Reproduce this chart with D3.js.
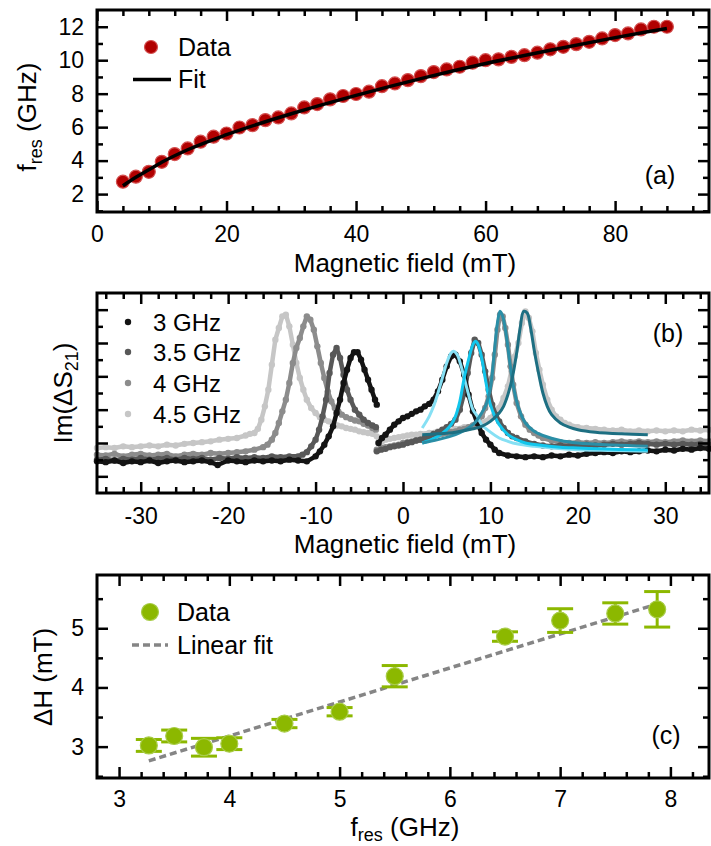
<!DOCTYPE html>
<html lang="en">
<head>
<meta charset="utf-8">
<script src="https://cdn.jsdelivr.net/npm/d3@7"></script>
<style>
  body { margin: 0; background: #fff; }
  svg { font-family: "Liberation Sans", Arial, Helvetica, sans-serif; }
</style>
</head>
<body>
<script>
// ---------- panel (a): resonance frequency vs field ----------
let fieldA = [4,6,8,10,12,14,16,18,20,22,24,26,28,30,32,34,36,38,40,42,44,46,48,50,52,54,56,58,60,62,64,66,68,70,72,74,76,78,80,82,84,86,88];
let fresA  = [2.74,3.04,3.33,3.93,4.39,4.73,5.13,5.43,5.62,5.98,6.12,6.42,6.58,6.82,7.18,7.38,7.66,7.86,7.98,8.12,8.45,8.61,8.81,9.05,9.29,9.45,9.61,9.85,10.0,10.05,10.2,10.3,10.45,10.65,10.8,10.96,11.1,11.3,11.5,11.6,11.84,12.0,12.0];
let fitFieldA = [4,6,8,10,14,20,30,40,50,60,70,80,85,88];
let fitA      = [2.5,3.0,3.45,3.9,4.65,5.55,6.8,7.9,8.9,9.8,10.6,11.35,11.7,11.9];
let xMajA = [0,20,40,60,80];
let xMinA = [4,8,12,16,24,28,32,36,44,48,52,56,64,68,72,76,84,88,92];
let yMajA = [2,4,6,8,10,12];
let yMinA = [1,3,5,7,9,11];

// ---------- panel (b): Im(dS21) spectra, [field, value] ----------
let labelsB = ["3 GHz", "3.5 GHz", "4 GHz", "4.5 GHz"];
let colorsB = ["#141414", "#585858", "#8c8c8c", "#c6c6c6"];
let fitColorsB = ["#86e0f4", "#12c6ec", "#2a8ea6", "#1d6f82"];
let s3Neg = [[-35,1.9],[-34,1.85],[-33,1.95],[-32,1.8],[-31,1.9],[-30,1.85],[-29,1.95],[-28,1.8],[-27,1.9],[-26,1.95],[-25,1.85],[-24,1.9],[-23,1.95],[-22,1.85],[-21.2,1.68],[-20,1.95],[-19,1.9],[-18,1.85],[-17,1.95],[-16,1.9],[-15,1.95],[-14,1.9],[-13,2.0],[-12,1.95],[-11,1.9],[-10,2.2],[-9.5,2.5],[-9,2.9],[-8.5,3.4],[-8,4.0],[-7.6,4.8],[-7.2,5.6],[-6.8,6.6],[-6.4,7.4],[-6,8.1],[-5.6,8.45],[-5.2,8.45],[-4.8,8.0],[-4.4,7.4],[-4,6.8],[-3.6,6.2],[-3.2,5.6],[-3,5.3]];
let s3Pos = [[-2.8,3.0],[-2.4,3.3],[-2,3.5],[-1.5,3.8],[-1,4.1],[-0.5,4.3],[0,4.5],[0.5,4.6],[1,4.75],[1.5,4.9],[2,5.0],[2.5,5.2],[3,5.35],[3.5,5.6],[4,6.1],[4.5,6.8],[5,7.6],[5.5,8.2],[6,8.3],[6.5,7.9],[7,7.1],[7.5,5.9],[8,4.9],[8.5,4.2],[9,3.6],[9.5,3.2],[10,2.9],[10.5,2.6],[11,2.4],[12,2.25],[13,2.2],[14,2.15],[15,2.2],[16,2.15],[17,2.25],[18,2.2],[19,2.3],[20,2.25],[21,2.35],[22,2.4],[23,2.45],[24,2.4],[25,2.5],[26,2.45],[27,2.5],[28,2.55],[29,2.5],[30,2.6],[31,2.55],[32,2.65],[33,2.6],[34,2.7],[35,2.65]];
let s35Neg = [[-35,2.0],[-34,2.05],[-33,1.95],[-32,2.05],[-31,2.0],[-30,2.1],[-29,2.0],[-28,2.05],[-27,2.1],[-26,2.0],[-25,2.1],[-24,2.05],[-23,2.1],[-22,2.0],[-21,2.1],[-20,2.05],[-19,2.15],[-18,2.1],[-17,2.15],[-16,2.1],[-15,2.2],[-14,2.15],[-13,2.2],[-12,2.2],[-11.5,2.3],[-11,2.45],[-10.5,2.8],[-10,3.2],[-9.6,3.8],[-9.2,4.6],[-8.8,5.6],[-8.4,7.2],[-8.0,8.3],[-7.6,8.7],[-7.2,8.1],[-6.8,7.1],[-6.4,6.2],[-6,5.6],[-5.5,5.0],[-5,4.7],[-4.5,4.4],[-4,4.2],[-3.5,4.05],[-3.1,3.95]];
let s35Pos = [[-3,2.5],[-2.5,2.6],[-2,2.65],[-1.5,2.75],[-1,2.8],[-0.5,2.85],[0,2.9],[0.5,3.0],[1,3.05],[1.5,3.15],[2,3.2],[2.5,3.3],[3,3.4],[3.5,3.55],[4,3.65],[4.5,3.8],[5,3.95],[5.5,4.15],[6,4.4],[6.5,5.0],[7,6.0],[7.4,7.2],[7.8,8.4],[8.2,9.2],[8.6,9.0],[9,8.3],[9.4,7.3],[9.8,6.2],[10.2,5.3],[10.6,4.7],[11,4.3],[11.5,3.9],[12,3.6],[12.5,3.4],[13,3.3],[14,3.1],[15,2.95],[16,2.85],[17,2.8],[18,2.85],[19,2.8],[20,2.85],[21,2.9],[22,2.85],[23,2.9],[24,2.95],[25,2.9],[26,2.95],[27,3.0],[28,2.95],[29,2.9],[30,2.95],[31,2.9],[32,2.95],[33,2.9],[34,2.95],[35,2.9]];
let s4Neg = [[-35,2.3],[-34,2.25],[-33,2.35],[-32,2.2],[-31,2.3],[-30,2.35],[-29,2.25],[-28,2.3],[-27,2.35],[-26,2.2],[-25,2.3],[-24,2.35],[-23,2.3],[-22,2.4],[-21,2.35],[-20,2.4],[-19,2.45],[-18,2.5],[-17,2.6],[-16,2.75],[-15.5,2.9],[-15,3.2],[-14.6,3.6],[-14.2,4.2],[-13.8,4.9],[-13.4,5.6],[-13,6.6],[-12.6,7.8],[-12.2,8.7],[-11.8,9.3],[-11.4,10.0],[-11,10.6],[-10.6,10.4],[-10.2,9.8],[-9.8,8.8],[-9.4,7.8],[-9,6.9],[-8.6,6.1],[-8.2,5.5],[-7.8,5.1],[-7.4,4.9],[-7,4.7],[-6.5,4.55],[-6,4.45],[-5.5,4.35],[-5,4.3],[-4.5,4.15],[-4,4.05],[-3.5,3.9],[-3.1,3.8]];
let s4Pos = [[-3,2.6],[-2.5,2.7],[-2,2.75],[-1.5,2.8],[-1,2.85],[-0.5,2.9],[0,3.0],[0.5,3.05],[1,3.1],[1.5,3.15],[2,3.2],[2.5,3.3],[3,3.35],[3.5,3.45],[4,3.5],[4.5,3.55],[5,3.6],[5.5,3.65],[6,3.7],[6.5,3.8],[7,3.85],[7.5,3.95],[8,4.05],[8.5,4.3],[9,4.6],[9.4,5.1],[9.8,5.8],[10.2,6.9],[10.5,8.3],[10.8,9.8],[11.1,10.7],[11.4,10.6],[11.7,9.9],[12,8.9],[12.3,7.6],[12.6,6.5],[13,5.4],[13.5,4.6],[14,4.1],[14.5,3.8],[15,3.6],[15.5,3.45],[16,3.3],[17,3.15],[18,3.05],[19,3.0],[20,3.05],[21,3.0],[22,3.05],[23,3.0],[24,3.05],[25,3.1],[26,3.05],[27,3.1],[28,3.05],[29,3.1],[30,3.05],[31,3.1],[32,3.15],[33,3.1],[34,3.15],[35,3.1]];
let s45Neg = [[-35,2.7],[-34,2.75],[-33,2.7],[-32,2.8],[-31,2.75],[-30,2.8],[-29,2.85],[-28,2.8],[-27,2.9],[-26,2.85],[-25,2.95],[-24,3.0],[-23,3.05],[-22,3.1],[-21,3.2],[-20,3.25],[-19,3.3],[-18,3.45],[-17.5,3.55],[-17,3.6],[-16.6,3.85],[-16.2,4.4],[-15.8,5.2],[-15.4,6.2],[-15,7.7],[-14.6,9.2],[-14.2,9.9],[-13.8,10.6],[-13.4,10.7],[-13,10.0],[-12.6,8.9],[-12.2,7.8],[-11.8,6.9],[-11.4,6.2],[-11,5.6],[-10.5,5.1],[-10,4.8],[-9.5,4.55],[-9,4.4],[-8.5,4.3],[-8,4.15],[-7.5,4.05],[-7,4.0],[-6.5,3.9],[-6,3.85],[-5.5,3.8],[-5,3.7],[-4.5,3.65],[-4,3.6],[-3.5,3.55],[-3,3.4],[-2.6,3.05]];
let s45Pos = [[-2.8,3.05],[-2.4,3.1],[-2,3.2],[-1.5,3.25],[-1,3.3],[-0.5,3.35],[0,3.4],[0.5,3.45],[1,3.5],[1.5,3.5],[2,3.55],[3,3.6],[4,3.7],[5,3.75],[6,3.85],[7,3.95],[8,4.05],[9,4.2],[10,4.5],[10.5,4.8],[11,5.1],[11.5,5.7],[12,6.4],[12.4,7.3],[12.8,8.2],[13.2,9.0],[13.6,10.2],[14,10.9],[14.4,10.5],[14.8,9.7],[15.2,8.4],[15.6,7.4],[16,6.5],[16.5,5.6],[17,5.0],[17.5,4.6],[18,4.4],[18.5,4.2],[19,4.1],[20,3.95],[21,3.9],[22,3.85],[23,3.8],[24,3.75],[25,3.8],[26,3.7],[27,3.75],[28,3.7],[29,3.75],[30,3.7],[31,3.75],[32,3.7],[33,3.8],[34,3.75],[35,3.8]];
let fit3 = [[2.2,3.9],[3,4.6],[3.5,5.2],[4,6.0],[4.5,6.9],[5,7.8],[5.5,8.4],[5.8,8.5],[6.2,8.3],[6.6,7.7],[7,6.9],[7.5,5.9],[8,5.0],[8.5,4.6],[9,4.1],[10,3.65],[11,3.3],[12,3.1],[13,2.95],[15,2.8],[17,2.7],[20,2.6],[24,2.55],[28,2.5]];
let fit35 = [[2.2,3.0],[3,3.15],[4,3.4],[5,3.8],[5.5,4.1],[6,4.6],[6.5,5.5],[7,6.9],[7.5,8.0],[8,8.9],[8.3,9.1],[8.6,8.9],[9,8.1],[9.5,6.6],[10,5.3],[10.5,4.6],[11,4.1],[12,3.5],[13,3.2],[14,3.0],[16,2.85],[18,2.75],[20,2.7],[24,2.62],[28,2.58]];
let fit4 = [[2.2,3.0],[4,3.2],[6,3.5],[7,3.75],[8,4.1],[8.5,4.4],[9,4.8],[9.5,5.3],[10,6.3],[10.4,8.2],[10.8,10.2],[11.1,10.9],[11.4,10.6],[11.8,9.5],[12.2,7.9],[12.6,6.5],[13,5.5],[13.5,4.7],[14,4.2],[15,3.7],[16,3.45],[18,3.15],[20,3.0],[24,2.88],[28,2.8]];
let fit45 = [[2.2,3.5],[4,3.55],[6,3.65],[8,3.85],[9,4.0],[10,4.3],[11,4.8],[11.5,5.2],[12,5.9],[12.5,6.9],[13,8.4],[13.4,9.9],[13.8,10.9],[14.2,10.8],[14.6,9.9],[15,8.6],[15.5,7.2],[16,6.0],[16.5,5.2],[17,4.7],[18,4.2],[19,3.95],[20,3.8],[22,3.65],[25,3.55],[28,3.5]];
let xMajB = [-30,-20,-10,0,10,20,30];
let xMinB = [-34,-32,-28,-26,-24,-22,-18,-16,-14,-12,-8,-6,-4,-2,2,4,6,8,12,14,16,18,22,24,26,28,32,34];
let yMajB = [1,3,5,7,9,11];
let yMinB = [2,4,6,8,10];

// ---------- panel (c): linewidth vs frequency ----------
let freqC = [3.27,3.5,3.77,4.0,4.5,5.0,5.5,6.5,7.0,7.5,7.88];
let dHC   = [3.02,3.18,2.99,3.05,3.39,3.59,4.19,4.86,5.13,5.25,5.32];
let errC  = [0.1,0.1,0.15,0.1,0.07,0.07,0.18,0.08,0.2,0.18,0.3];
let fitFreqC = [3.27,7.88];
let fitC     = [2.76,5.41];
let xMajC = [3,4,5,6,7,8];
let xMinC = [3.2,3.4,3.6,3.8,4.2,4.4,4.6,4.8,5.2,5.4,5.6,5.8,6.2,6.4,6.6,6.8,7.2,7.4,7.6,7.8,8.2];
let yMajC = [3,4,5];
let yMinC = [2.5,3.5,4.5,5.5];

let w = 711, h = 846;
let left = 97, right = 709;
let tickFont = 23, labelFont = 26, legendFont = 25;

let svg = d3.select("body").append("svg")
    .attr("width", w)
    .attr("height", h);

function addAxes(x, y, xMaj, xMin, yMaj, yMin, showY, pad) {
    let [yb, yt] = y.range();
    let [xl, xr] = x.range();
    let big = 11, small = 6;
    let g = svg.append("g");
    let style = (sel) => {
        sel.select(".domain").remove();
        sel.attr("font-size", tickFont).attr("font-family", null);
        sel.selectAll("line").attr("stroke-width", 2.5);
        sel.selectAll("text").attr("fill", "#000");
    };
    g.append("g").attr("transform", "translate(0," + yb + ")")
        .call(d3.axisBottom(x).tickValues(xMaj).tickSize(-big).tickPadding(pad).tickFormat((d) => String(d))).call(style);
    g.append("g").attr("transform", "translate(0," + yb + ")")
        .call(d3.axisBottom(x).tickValues(xMin).tickSize(-small).tickFormat("")).call(style);
    g.append("g").attr("transform", "translate(0," + yt + ")")
        .call(d3.axisTop(x).tickValues(xMaj).tickSize(-big).tickFormat("")).call(style);
    g.append("g").attr("transform", "translate(0," + yt + ")")
        .call(d3.axisTop(x).tickValues(xMin).tickSize(-small).tickFormat("")).call(style);
    g.append("g").attr("transform", "translate(" + xl + ",0)")
        .call(d3.axisLeft(y).tickValues(yMaj).tickSize(-big).tickPadding(13).tickFormat(showY ? (d) => String(d) : "")).call(style);
    g.append("g").attr("transform", "translate(" + xl + ",0)")
        .call(d3.axisLeft(y).tickValues(yMin).tickSize(-small).tickFormat("")).call(style);
    g.append("g").attr("transform", "translate(" + xr + ",0)")
        .call(d3.axisRight(y).tickValues(yMaj).tickSize(-big).tickFormat("")).call(style);
    g.append("g").attr("transform", "translate(" + xr + ",0)")
        .call(d3.axisRight(y).tickValues(yMin).tickSize(-small).tickFormat("")).call(style);
    svg.append("rect")
        .attr("x", xl).attr("y", yt)
        .attr("width", xr - xl).attr("height", yb - yt)
        .attr("fill", "none").attr("stroke", "#000").attr("stroke-width", 3);
}

function text(x, y, str, size, anchor) {
    return svg.append("text").attr("x", x).attr("y", y)
        .attr("font-size", size).attr("text-anchor", anchor || "start")
        .attr("fill", "#000").text(str);
}

// ===== panel (a) =====
let xA = d3.scaleLinear().domain([0, 94.5]).range([left, right]);
let yA = d3.scaleLinear().domain([0.93, 13]).range([212, 10]);

svg.append("g").selectAll("circle")
    .data(fieldA)
    .enter()
    .append("circle")
    .attr("cx", (d) => xA(d))
    .attr("cy", (d, i) => yA(fresA[i]))
    .attr("r", 6.5)
    .attr("fill", "#b10000")
    .attr("stroke", "#d45050")
    .attr("stroke-width", 1.2);

svg.append("path")
    .datum(fitFieldA)
    .attr("d", d3.line().x((d) => xA(d)).y((d, i) => yA(fitA[i])).curve(d3.curveMonotoneX))
    .attr("fill", "none").attr("stroke", "#000").attr("stroke-width", 3.5);

addAxes(xA, yA, xMajA, xMinA, yMajA, yMinA, true, 14);

// legend (a)
svg.append("circle").attr("cx", 151).attr("cy", 47).attr("r", 6.5)
    .attr("fill", "#b10000").attr("stroke", "#d45050").attr("stroke-width", 1.2);
text(178, 56, "Data", legendFont);
svg.append("line").attr("x1", 133).attr("x2", 171).attr("y1", 79.5).attr("y2", 79.5)
    .attr("stroke", "#000").attr("stroke-width", 3.5);
text(178, 88, "Fit", legendFont);
text(660, 184, "(a)", legendFont, "middle");

text(405, 272, "Magnetic field (mT)", labelFont, "middle");
let labA = svg.append("text").attr("transform", "translate(36,117) rotate(-90)")
    .attr("text-anchor", "middle").attr("font-size", labelFont).attr("fill", "#000");
labA.append("tspan").text("f");
labA.append("tspan").attr("font-size", 18).attr("dy", 6).text("res");
labA.append("tspan").attr("dy", -6).text(" (GHz)");

// ===== panel (b) =====
let xB = d3.scaleLinear().domain([-35, 35]).range([left, right]);
let yB = d3.scaleLinear().domain([0, 12]).range([493, 293]);
let seriesB = [[s45Neg, s45Pos, 3], [s4Neg, s4Pos, 2], [s35Neg, s35Pos, 1], [s3Neg, s3Pos, 0]];
let lineB = d3.line().x((d) => xB(d[0])).y((d) => yB(d[1]));

seriesB.forEach((s) => {
    let col = colorsB[s[2]];
    [s[0], s[1]].forEach((seg) => {
        svg.append("path").datum(seg).attr("d", lineB)
            .attr("fill", "none").attr("stroke", col)
            .attr("stroke-width", 4.5).attr("stroke-linejoin", "round");
        svg.append("g").selectAll("circle")
            .data(seg).enter().append("circle")
            .attr("cx", (d) => xB(d[0]))
            .attr("cy", (d) => yB(d[1]))
            .attr("r", 3.2)
            .attr("fill", col);
    });
});

let fitLineB = d3.line().x((d) => xB(d[0])).y((d) => yB(d[1])).curve(d3.curveCatmullRom);
[fit3, fit35, fit4, fit45].forEach((f, i) => {
    svg.append("path").datum(f).attr("d", fitLineB)
        .attr("fill", "none").attr("stroke", fitColorsB[i]).attr("stroke-width", 3);
});

addAxes(xB, yB, xMajB, xMinB, yMajB, yMinB, false, 15);

// legend (b)
let legYB = [322, 352, 383, 414];
labelsB.forEach((lab, i) => {
    svg.append("circle").attr("cx", 128).attr("cy", legYB[i]).attr("r", 3.2).attr("fill", colorsB[i]);
    text(153, legYB[i] + 8.5, lab, 24);
});
text(668, 342, "(b)", legendFont, "middle");

text(405, 553, "Magnetic field (mT)", labelFont, "middle");
let labB = svg.append("text").attr("transform", "translate(72,393) rotate(-90)")
    .attr("text-anchor", "middle").attr("font-size", labelFont).attr("fill", "#000");
labB.append("tspan").text("Im(\u0394S");
labB.append("tspan").attr("font-size", 18).attr("dy", 6).text("21");
labB.append("tspan").attr("dy", -6).text(")");

// ===== panel (c) =====
let xC = d3.scaleLinear().domain([2.8, 8.35]).range([left, right]);
let yC = d3.scaleLinear().domain([2.47, 5.9]).range([778, 575]);
let green = "#8cb800";

svg.append("path")
    .datum(fitFreqC)
    .attr("d", d3.line().x((d) => xC(d)).y((d, i) => yC(fitC[i])))
    .attr("fill", "none").attr("stroke", "#858585").attr("stroke-width", 3.5)
    .attr("stroke-dasharray", "7,4");

let bars = svg.append("g").attr("stroke", green).attr("stroke-width", 3);
freqC.forEach((f, i) => {
    let cx = xC(f);
    bars.append("line").attr("x1", cx).attr("x2", cx)
        .attr("y1", yC(dHC[i] - errC[i])).attr("y2", yC(dHC[i] + errC[i]));
    bars.append("line").attr("x1", cx - 13).attr("x2", cx + 13)
        .attr("y1", yC(dHC[i] - errC[i])).attr("y2", yC(dHC[i] - errC[i]));
    bars.append("line").attr("x1", cx - 13).attr("x2", cx + 13)
        .attr("y1", yC(dHC[i] + errC[i])).attr("y2", yC(dHC[i] + errC[i]));
});

svg.append("g").selectAll("circle")
    .data(freqC)
    .enter()
    .append("circle")
    .attr("cx", (d) => xC(d))
    .attr("cy", (d, i) => yC(dHC[i]))
    .attr("r", 8.5)
    .attr("fill", green)
    .attr("stroke", "#a8cc48")
    .attr("stroke-width", 1.2);

addAxes(xC, yC, xMajC, xMinC, yMajC, yMinC, true, 13);

// legend (c)
svg.append("circle").attr("cx", 150).attr("cy", 612).attr("r", 8.5)
    .attr("fill", green).attr("stroke", "#a8cc48").attr("stroke-width", 1.2);
text(177, 621, "Data", legendFont);
svg.append("line").attr("x1", 132).attr("x2", 168).attr("y1", 645).attr("y2", 645)
    .attr("stroke", "#858585").attr("stroke-width", 3.5).attr("stroke-dasharray", "7,4");
text(177, 654, "Linear fit", legendFont);
text(666, 744, "(c)", legendFont, "middle");

let labCx = svg.append("text").attr("x", 405).attr("y", 836)
    .attr("text-anchor", "middle").attr("font-size", labelFont).attr("fill", "#000");
labCx.append("tspan").text("f");
labCx.append("tspan").attr("font-size", 18).attr("dy", 5).text("res");
labCx.append("tspan").attr("dy", -5).text(" (GHz)");
text(0, 0, "\u0394H (mT)", labelFont, "middle").attr("x", null).attr("y", null)
    .attr("transform", "translate(52,677) rotate(-90)");
</script>
</body>
</html>
